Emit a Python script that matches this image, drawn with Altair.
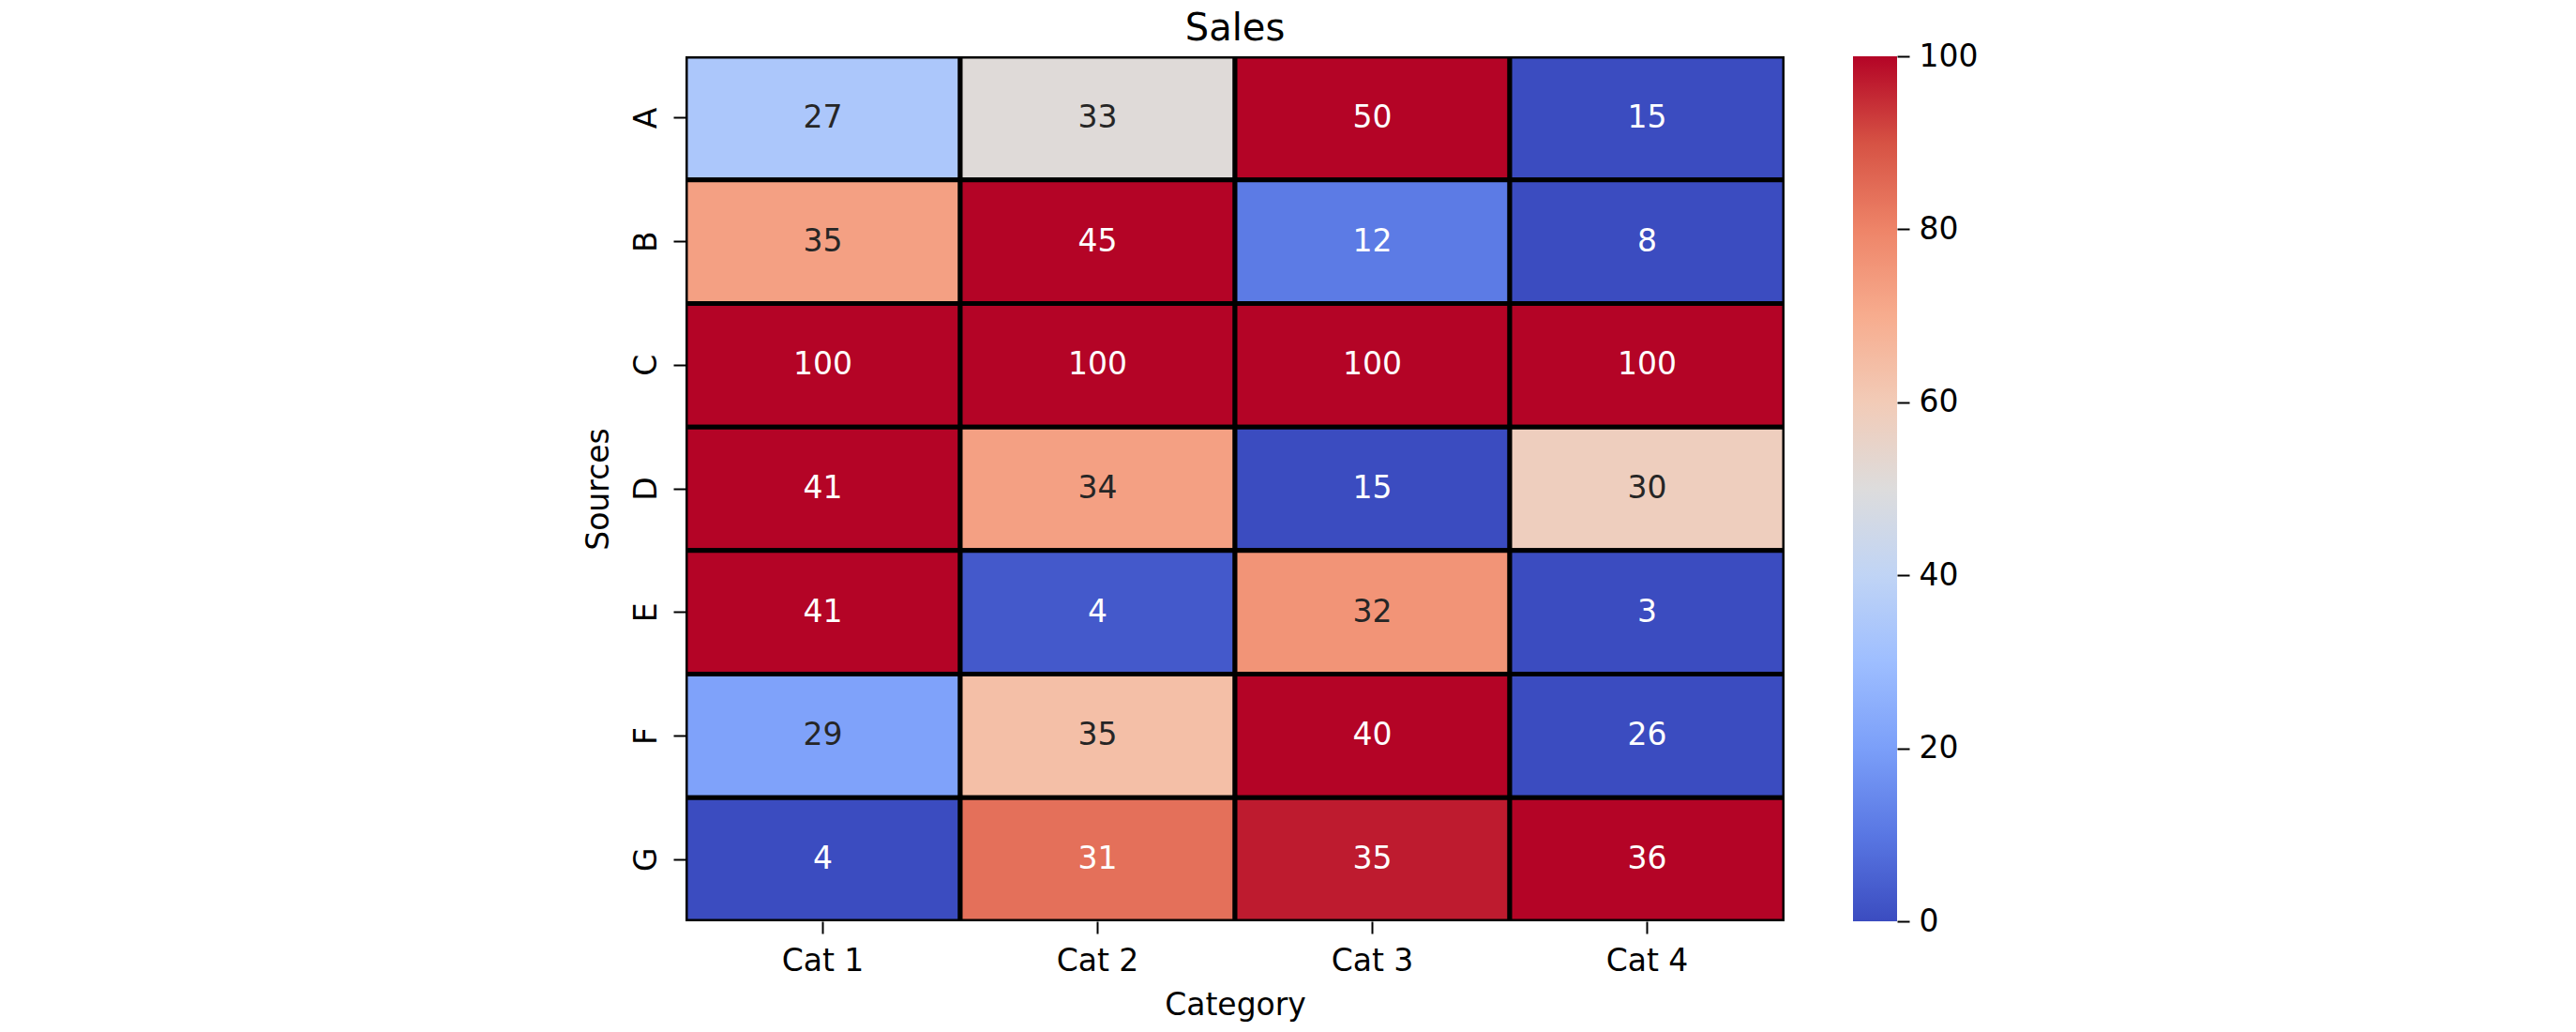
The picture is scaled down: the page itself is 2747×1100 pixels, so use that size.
import altair as alt
import pandas as pd

sources = ["A", "B", "C", "D", "E", "F", "G"]
categories = ["Cat 1", "Cat 2", "Cat 3", "Cat 4"]

# annotated sales values (rows = sources, cols = categories)
values = [
    [27, 33, 50, 15],
    [35, 45, 12, 8],
    [100, 100, 100, 100],
    [41, 34, 15, 30],
    [41, 4, 32, 3],
    [29, 35, 40, 26],
    [4, 31, 35, 36],
]

# colour level of each cell (0-100)
shades = [
    [34, 51, 100, 0],
    [73, 100, 11, 0],
    [100, 100, 100, 100],
    [100, 73, 0, 58],
    [100, 3, 76, 0],
    [21, 64, 100, 0],
    [0, 84, 97, 100],
]

cbar_ticks = [0, 20, 40, 60, 80, 100]
cbar_range = [0, 100]

coolwarm = ["#3b4cc0", "#5977e3", "#7b9ff9", "#9ebeff", "#c0d4f5", "#dddcdc",
            "#f2cbb7", "#f7ac8e", "#ee8468", "#d65244", "#b40426"]
cw_domain = [0, 10, 20, 30, 40, 50, 60, 70, 80, 90, 100]

rows = []
for i, s in enumerate(sources):
    for j, c in enumerate(categories):
        rows.append({"src": s, "cat": c, "val": values[i][j], "shade": shades[i][j]})
df = pd.DataFrame(rows)

FONT = "DejaVu Sans"
W, H = 1172, 922

xenc = alt.X("cat:N", sort=categories, title="Category",
             scale=alt.Scale(paddingInner=0, paddingOuter=0),
             axis=alt.Axis(labelAngle=0, labelFontSize=33, titleFontSize=33,
                           labelFont=FONT, titleFont=FONT, labelColor="black",
                           titleColor="black", titleFontWeight="normal",
                           tickSize=13, tickWidth=2, tickColor="black",
                           domain=False, labelPadding=13, titlePadding=14))

yaxis = alt.Axis(labelAngle=-90, labelAlign="center", labelBaseline="bottom",
                 labelFontSize=33, titleFontSize=33, labelFont=FONT, titleFont=FONT,
                 labelColor="black", titleColor="black", titleFontWeight="normal",
                 tickSize=13, tickWidth=2, tickColor="black", domain=False,
                 labelPadding=12, titlePadding=18)

base = alt.Chart(df)

heat = base.mark_rect(stroke="black", strokeWidth=5, clip=True).encode(
    x=xenc,
    y=alt.Y("src:N", sort=sources, title="Sources",
            scale=alt.Scale(paddingInner=0, paddingOuter=0), axis=yaxis),
    color=alt.Color("shade:Q",
                    scale=alt.Scale(domain=cw_domain, range=coolwarm, interpolate="rgb"),
                    legend=None),
)

text = base.mark_text(fontSize=33, font=FONT).encode(
    x=alt.X("cat:N", sort=categories, scale=alt.Scale(paddingInner=0, paddingOuter=0)),
    y=alt.Y("src:N", sort=sources, scale=alt.Scale(paddingInner=0, paddingOuter=0), axis=None),
    text="val:Q",
    color=alt.condition("datum.shade > 18 && datum.shade < 80",
                        alt.value("#262626"), alt.value("white")),
)

cb_df = pd.DataFrame({"lo": [cbar_range[0]], "hi": [cbar_range[1]]})
stops = [alt.GradientStop(offset=d / 100.0, color=c) for d, c in zip(cw_domain, coolwarm)]
cbar = alt.Chart(cb_df).mark_rect(
    fill=alt.Gradient(gradient="linear", stops=stops, x1=0, x2=0, y1=1, y2=0),
    strokeWidth=0, clip=False,
).encode(
    x=alt.value(W + 73),
    x2=alt.value(W + 120),
    y=alt.Y("lo:Q", scale=alt.Scale(domain=cbar_range, nice=False, zero=False),
            axis=alt.Axis(orient="right", offset=120, values=cbar_ticks, title=None,
                          labelFontSize=33, labelFont=FONT, labelColor="black",
                          tickSize=13, tickWidth=2, tickColor="black", domain=False,
                          grid=False, labelPadding=10)),
    y2="hi:Q",
)

chart = alt.layer(heat, text, cbar).resolve_scale(y="independent").properties(
    width=W, height=H,
    title=alt.TitleParams("Sales", fontSize=40, font=FONT, fontWeight="normal",
                          color="black", offset=-7, anchor="middle", frame="group"),
    autosize=alt.AutoSizeParams(type="none"),
    padding={"left": 723, "top": 52, "right": 300, "bottom": 110},
).configure_view(stroke=None)

chart.save("out.html", embed_options={"renderer": "svg", "actions": False})
